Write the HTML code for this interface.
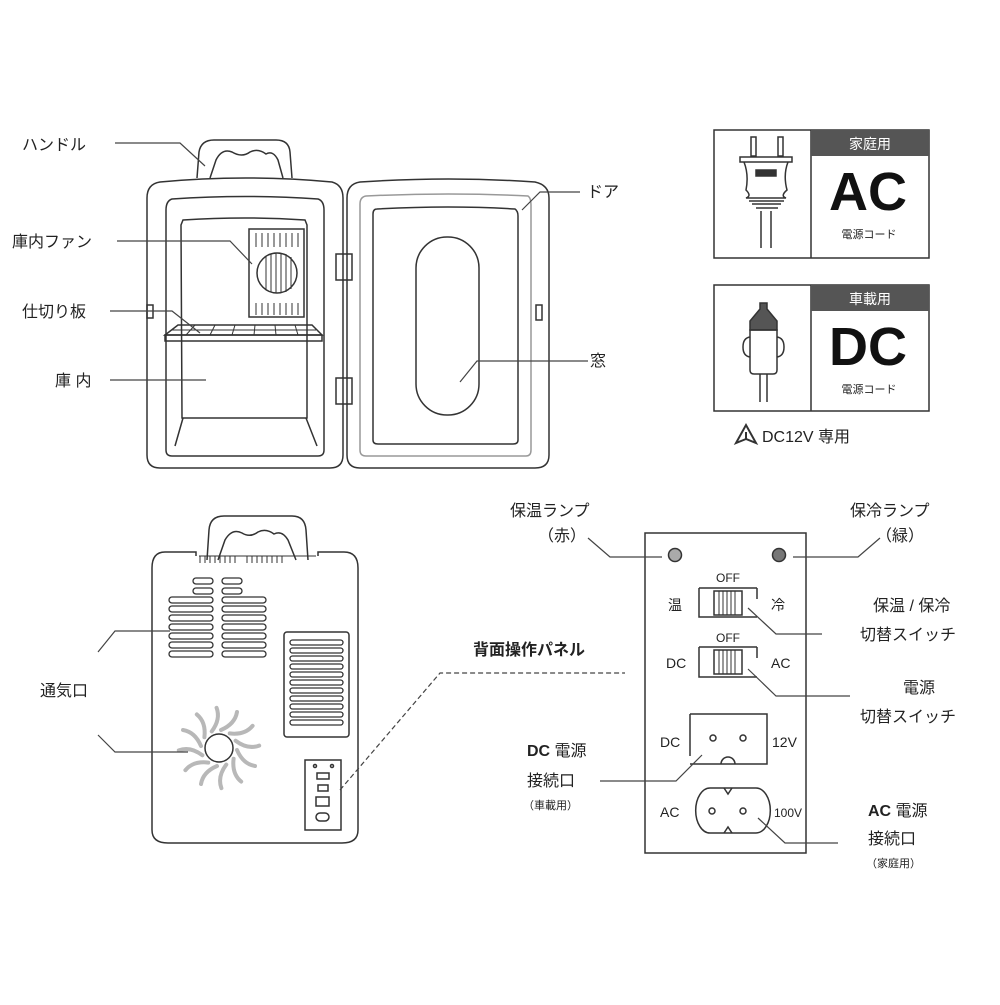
<!DOCTYPE html>
<html><head><meta charset="utf-8"><style>
body{margin:0;background:#fff}
text{font-family:"Liberation Sans","Noto Sans CJK JP",sans-serif;fill:#222}
</style></head><body>
<svg width="1000" height="1000" viewBox="0 0 1000 1000" xmlns="http://www.w3.org/2000/svg">
<g fill="none" stroke="#333" stroke-width="1.5">
<!-- front fridge -->
<path d="M197,178 L199,152 Q201,140 214,140 L276,140 Q289,140 290,152 L292,178"/>
<path d="M210,178 L216,160 Q222,148 232,152 Q242,158 250,152 Q258,148 266,154 Q273,150 278,160 L283,178"/>
<path d="M160,182 Q245,174 332,182 Q343,185 343,198 L343,455 Q343,468 330,468 L160,468 Q147,468 147,455 L147,198 Q147,184 160,182 Z"/>
<path d="M172,199 Q245,194 318,199 Q324,201 324,210 L324,450 Q324,456 318,456 L172,456 Q166,456 166,450 L166,210 Q166,201 172,199 Z"/>
<path d="M183,220 Q245,216 305,220 L307,225 L307,418 L182,418 L181,225 Z"/>
<rect x="249" y="229" width="55" height="88"/>
<circle cx="277" cy="273" r="20"/>
<path d="M266,256 v34 M271,254 v38 M276,253 v40 M281,253 v40 M286,254 v38 M291,257 v32" stroke-width="1"/>
<path d="M256,233 v14 M262,233 v14 M268,233 v14 M274,233 v14 M280,233 v14 M286,233 v14 M292,233 v14 M298,233 v14 M256,303 v12 M262,303 v12 M268,303 v12 M274,303 v12 M280,303 v12 M286,303 v12 M292,303 v12 M298,303 v12" stroke-width="1"/>
<path d="M178,325 L312,325 L322,335 L165,335 Z"/>
<rect x="165" y="335" width="157" height="6"/>
<path d="M195,325 L186,335 M215,325 L210,335 M235,325 L232,335 M255,325 L254,335 M275,325 L276,335 M295,325 L298,335 M172,330 L316,330" stroke-width="1"/>
<path d="M183,418 L175,446 M306,418 L317,446"/>
<rect x="147" y="305" width="6" height="13"/>
<rect x="336" y="254" width="16" height="26"/><rect x="336" y="378" width="16" height="26"/>
<!-- door -->
<path d="M360,182 Q450,176 535,182 Q549,185 549,198 L549,455 Q549,468 535,468 L360,468 Q347,468 347,455 L347,198 Q347,184 360,182 Z"/>
<path d="M366,196 Q450,192 528,196 Q531,198 531,205 L531,450 Q531,456 526,456 L366,456 Q360,456 360,450 L360,204 Q360,197 366,196 Z" stroke="#999"/>
<path d="M377,209 Q450,205 515,209 Q518,211 518,216 L518,440 Q518,444 513,444 L378,444 Q373,444 373,440 L373,214 Q373,209 377,209 Z"/>
<rect x="416" y="237" width="63" height="178" rx="31"/>
<rect x="536" y="305" width="6" height="15"/>
<!-- back fridge -->
<path d="M207,560 L209,530 Q210,516 224,516 L292,516 Q305,516 306,530 L308,560"/>
<path d="M218,560 L225,540 Q232,528 242,533 Q250,538 258,532 Q266,528 274,534 Q282,530 288,540 L296,560"/>
<path d="M196,556 L196,552 L165,552 Q152,552 152,568 L152,830 Q152,843 168,843 L342,843 Q358,843 358,830 L358,568 Q358,552 344,552 L318,552 L318,556"/>
<path d="M199,556 h117 M200,556 v7 M205,556 v7 M210,556 v7 M215,556 v7 M220,556 v7 M225,556 v7 M230,556 v7 M235,556 v7 M247,556 v7 M252,556 v7 M257,556 v7 M262,556 v7 M267,556 v7 M272,556 v7 M277,556 v7 M282,556 v7" stroke-width="1"/>
<g stroke-width="1.3">
<rect x="193" y="578" width="20" height="6" rx="3"/><rect x="222" y="578" width="20" height="6" rx="3"/>
<rect x="193" y="588" width="20" height="6" rx="3"/><rect x="222" y="588" width="20" height="6" rx="3"/>
<rect x="169" y="597" width="44" height="6" rx="3"/><rect x="222" y="597" width="44" height="6" rx="3"/>
<rect x="169" y="606" width="44" height="6" rx="3"/><rect x="222" y="606" width="44" height="6" rx="3"/>
<rect x="169" y="615" width="44" height="6" rx="3"/><rect x="222" y="615" width="44" height="6" rx="3"/>
<rect x="169" y="624" width="44" height="6" rx="3"/><rect x="222" y="624" width="44" height="6" rx="3"/>
<rect x="169" y="633" width="44" height="6" rx="3"/><rect x="222" y="633" width="44" height="6" rx="3"/>
<rect x="169" y="642" width="44" height="6" rx="3"/><rect x="222" y="642" width="44" height="6" rx="3"/>
<rect x="169" y="651" width="44" height="6" rx="3"/><rect x="222" y="651" width="44" height="6" rx="3"/>
</g>
<rect x="284" y="632" width="65" height="105" rx="3"/>
<g stroke-width="1.3">
<rect x="290" y="640" width="53" height="5" rx="2.5"/><rect x="290" y="648" width="53" height="5" rx="2.5"/><rect x="290" y="656" width="53" height="5" rx="2.5"/><rect x="290" y="664" width="53" height="5" rx="2.5"/><rect x="290" y="672" width="53" height="5" rx="2.5"/><rect x="290" y="680" width="53" height="5" rx="2.5"/><rect x="290" y="688" width="53" height="5" rx="2.5"/><rect x="290" y="696" width="53" height="5" rx="2.5"/><rect x="290" y="704" width="53" height="5" rx="2.5"/><rect x="290" y="712" width="53" height="5" rx="2.5"/><rect x="290" y="720" width="53" height="5" rx="2.5"/>
</g>
<g stroke="#b8b8b8" stroke-width="4" stroke-linecap="round" transform="translate(219,748)">
<path id="bl" d="M2,-18 Q16,-24 18,-36"/>
<use href="#bl" transform="rotate(30)"/><use href="#bl" transform="rotate(60)"/><use href="#bl" transform="rotate(90)"/>
<use href="#bl" transform="rotate(120)"/><use href="#bl" transform="rotate(150)"/><use href="#bl" transform="rotate(180)"/>
<use href="#bl" transform="rotate(210)"/><use href="#bl" transform="rotate(240)"/><use href="#bl" transform="rotate(270)"/>
<use href="#bl" transform="rotate(300)"/><use href="#bl" transform="rotate(330)"/>
</g>
<circle cx="219" cy="748" r="14" fill="#fff"/>
<rect x="305" y="760" width="36" height="70"/>
<rect x="317" y="773" width="12" height="6"/><rect x="318" y="785" width="10" height="6"/><rect x="316" y="797" width="13" height="9"/><rect x="316" y="813" width="13" height="8" rx="4"/>
<circle cx="315" cy="766" r="1.5"/><circle cx="332" cy="766" r="1.5"/>
<!-- panel -->
<rect x="645" y="533" width="161" height="320"/>
<circle cx="675" cy="555" r="6.5" fill="#aaa"/><circle cx="779" cy="555" r="6.5" fill="#777"/>
<path d="M699,588 h58 M699,588 v29 h58 M757,588 v11"/>
<rect x="714" y="591" width="28" height="24"/>
<path d="M719,591 v24 M723,591 v24 M727,591 v24 M731,591 v24 M735,591 v24" stroke-width="1"/>
<path d="M699,647 h58 M699,647 v30 h58 M757,647 v11"/>
<rect x="714" y="650" width="28" height="24"/>
<path d="M719,650 v24 M723,650 v24 M727,650 v24 M731,650 v24 M735,650 v24" stroke-width="1"/>
<path d="M690,714 h77 v50 h-77 M690,714 v42"/>
<circle cx="713" cy="738" r="3"/><circle cx="743" cy="738" r="3"/>
<path d="M721,764 a7,7 0 0 1 14,0"/>
<path d="M710,788 h46 a14,22 0 0 1 0,45 h-46 a14,22 0 0 1 0,-45 Z"/>
<path d="M724,788 l4,6 l4,-6 M724,833 l4,-6 l4,6"/>
<circle cx="712" cy="811" r="3"/><circle cx="743" cy="811" r="3"/>
<!-- top right boxes -->
<rect x="714" y="130" width="215" height="128"/><path d="M811,130 v128"/>
<rect x="714" y="285" width="215" height="126"/><path d="M811,285 v126"/>
<path d="M751,137 v19 h5 v-19 Z M778,137 v19 h5 v-19 Z"/>
<path d="M740,157 h52 v5 h-52 Z M744,162 h44 Q783,175 787,190 Q780,196 786,198 h-40 Q752,196 746,190 Q749,175 744,162 Z"/>
<rect x="756" y="170" width="20" height="6" fill="#333"/>
<path d="M749,201 h35 M752,204 h29 M756,208 h22 M761,211 v37 M771,211 v37"/>
<path d="M760,303 h7 v6 l10,12 v9 h-27 v-9 l10,-12 Z" fill="#555"/>
<path d="M750,330 h27 v40 Q777,374 773,374 h-19 Q750,374 750,370 Z"/>
<path d="M750,337 Q743,338 743,347 Q743,356 750,357 M777,337 Q784,338 784,347 Q784,356 777,357"/>
<path d="M760,374 v28 M767,374 v28"/>
<path d="M746,439 L736,443 L746,425 L756,443 Z M746,432 v8" stroke-width="2"/>
</g>
<rect x="811" y="130" width="118" height="26" fill="#555"/>
<rect x="811" y="285" width="118" height="26" fill="#555"/>
<text x="870" y="149" font-size="14" text-anchor="middle" style="fill:#fff">家庭用</text>
<text x="870" y="304" font-size="14" text-anchor="middle" style="fill:#fff">車載用</text>
<text x="868" y="210" font-size="54" font-weight="900" text-anchor="middle" style="fill:#111">AC</text>
<text x="868" y="365" font-size="54" font-weight="900" text-anchor="middle" style="fill:#111">DC</text>
<text x="869" y="238" font-size="11" text-anchor="middle">電源コード</text>
<text x="869" y="393" font-size="11" text-anchor="middle">電源コード</text>
<text x="762" y="442" font-size="16">DC12V 専用</text>
<g fill="none" stroke="#444" stroke-width="1.2">
<path d="M115,143 H180 L205,166"/>
<path d="M117,241 H230 L252,264"/>
<path d="M110,311 H172 L200,333"/>
<path d="M110,380 H206"/>
<path d="M522,210 L540,192 H580"/>
<path d="M588,361 H477 L460,382"/>
<path d="M98,652 L115,631 H170"/>
<path d="M98,735 L115,752 H188"/>
<path d="M340,790 L440,673 H625" stroke-dasharray="5,3"/>
<path d="M588,538 L610,557 H662"/>
<path d="M793,557 H858 L880,538"/>
<path d="M748,608 L776,634 H822"/>
<path d="M748,669 L776,696 H850"/>
<path d="M702,755 L676,781 H600"/>
<path d="M758,818 L785,843 H838"/>
</g>
<g font-size="16">
<text x="22" y="150">ハンドル</text>
<text x="12" y="247">庫内ファン</text>
<text x="22" y="317">仕切り板</text>
<text x="55" y="386">庫 内</text>
<text x="587" y="197">ドア</text>
<text x="590" y="366">窓</text>
<text x="40" y="696">通気口</text>
<text x="473" y="655" font-weight="bold">背面操作パネル</text>
<text x="510" y="516">保温ランプ</text>
<text x="538" y="541">（赤）</text>
<text x="850" y="516">保冷ランプ</text>
<text x="876" y="541">（緑）</text>
<text x="873" y="611">保温 / 保冷</text>
<text x="860" y="640">切替スイッチ</text>
<text x="903" y="693">電源</text>
<text x="860" y="722">切替スイッチ</text>
<text x="527" y="756"><tspan font-weight="bold">DC</tspan> 電源</text>
<text x="527" y="786">接続口</text>
<text x="868" y="816"><tspan font-weight="bold">AC</tspan> 電源</text>
<text x="868" y="844">接続口</text>
</g>
<text x="523" y="809" font-size="11">（車載用）</text>
<text x="866" y="867" font-size="11">（家庭用）</text>
<g font-size="12">
<text x="728" y="582" text-anchor="middle">OFF</text>
<text x="728" y="642" text-anchor="middle">OFF</text>
</g>
<g font-size="14">
<text x="668" y="610">温</text><text x="771" y="610">冷</text>
<text x="666" y="668">DC</text><text x="771" y="668">AC</text>
<text x="660" y="747">DC</text><text x="772" y="747">12V</text>
<text x="660" y="817">AC</text><text x="774" y="817" font-size="12">100V</text>
</g>
</svg>
</body></html>
